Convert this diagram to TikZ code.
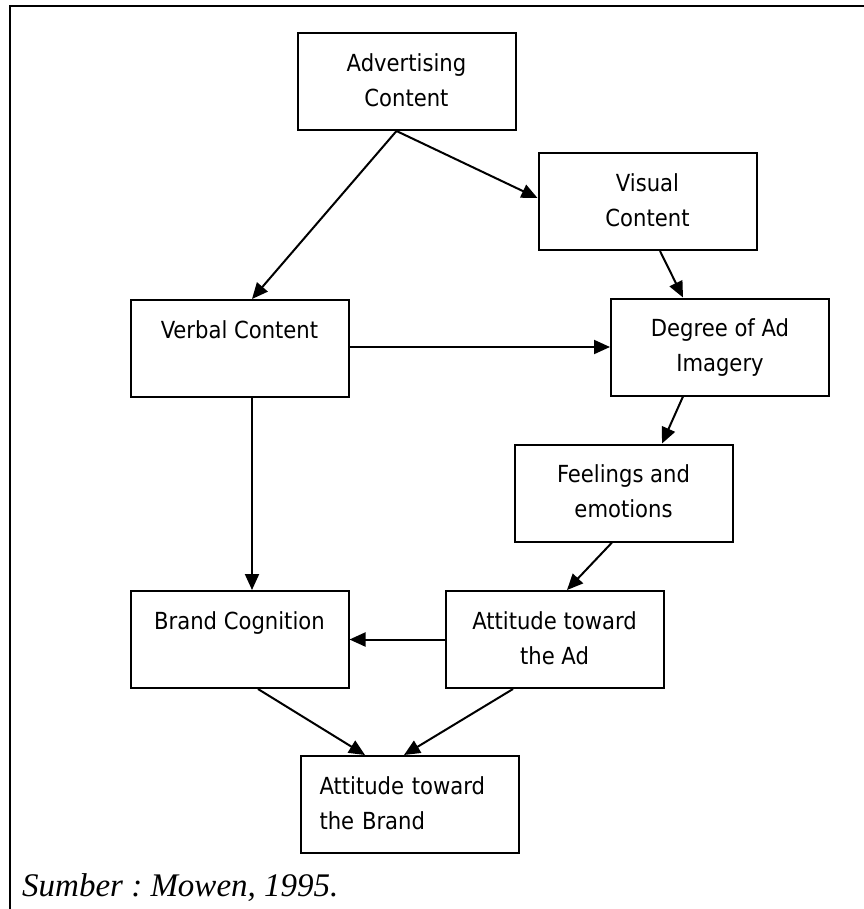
\documentclass[tikz,border=0pt]{standalone}
\usepackage{fontspec}
\usetikzlibrary{arrows.meta}
\newfontfamily\boxfont{DejaVu Sans Condensed}
\newfontfamily\notefont{Liberation Serif}
\frenchspacing
\begin{document}
\begin{tikzpicture}[x=1bp,y=-1bp,
  box/.style={draw, line width=2bp, minimum width=218bp, minimum height=97bp,
    inner sep=0pt, align=center, font=\boxfont\fontsize{23.5bp}{35bp}\selectfont},
  link/.style={line width=2bp, -{Triangle[length=16bp,width=14bp]}}]
\useasboundingbox (0,0) rectangle (864,909);
% frame
\draw[line width=2bp] (10,909) -- (10,6) -- (864,6);

% boxes
\node[box] (adv)  at (406.5,81.5) {\strut Advertising\\\strut Content};
\node[box] (vis)  at (647.5,201.5) {\strut Visual\\\strut Content};
\node[box] (verb) at (239.5,348.5) {\strut Verbal Content\\\strut};
\node[box] (deg)  at (720,347) {\strut Degree of Ad\\\strut Imagery};
\node[box] (feel) at (623.5,493) {\strut Feelings and\\\strut emotions};
\node[box] (bc)   at (239.5,639.5) {\strut Brand Cognition\\\strut};
\node[box] (aad)  at (554.5,639.5) {\strut Attitude toward\\\strut the Ad};
\node[box, text width=180bp, align=left] (abr) at (409.5,804.5) {\strut Attitude toward\\\strut the Brand};

% connectors
\draw[link] ([xshift=-10bp]adv.south) -- ([xshift=12.5bp]verb.north);
\draw[link] ([xshift=-10bp]adv.south) -- ([yshift=3.5bp]vis.west);
\draw[link] ([xshift=12.5bp]vis.south) -- ([xshift=-37bp]deg.north);
\draw[link] (verb.east |- deg.west) -- (deg.west);
\draw[link] ([xshift=12.5bp]verb.south) -- ([xshift=12.5bp]bc.north);
\draw[link] ([xshift=-37bp]deg.south) -- ([xshift=38.5bp]feel.north);
\draw[link] ([xshift=-11.5bp]feel.south) -- ([xshift=12.5bp]aad.north);
\draw[link] (aad.west) -- (bc.east);
\draw[link] ([xshift=18.5bp]bc.south) -- ([xshift=-44.5bp]abr.north);
\draw[link] ([xshift=-41.5bp]aad.south) -- ([xshift=-5.5bp]abr.north);

% source line
\node[anchor=base west, inner sep=0pt, font=\notefont\itshape\fontsize{33bp}{38bp}\selectfont] (src) at (22,896) {Sumber : Mowen, 1995.};
\end{tikzpicture}
\end{document}
